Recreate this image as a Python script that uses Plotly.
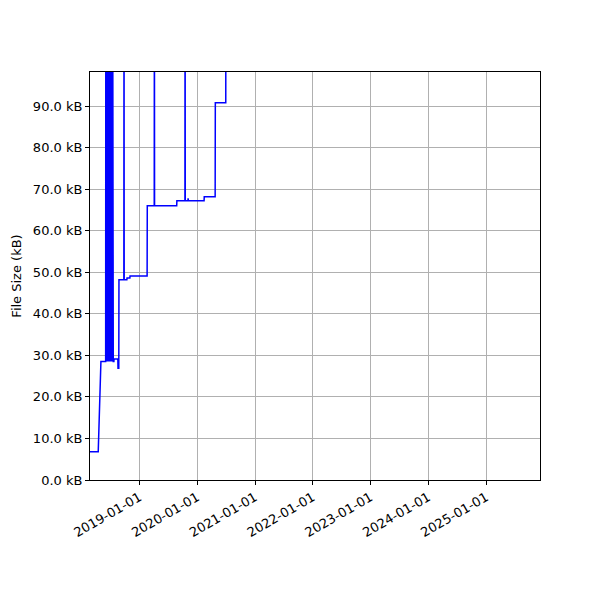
import plotly.graph_objects as go

dates = [
    "2018-02-23", "2018-04-16", "2018-05-03", "2018-06-02",
    "2018-06-03", "2018-06-06", "2018-06-07", "2018-06-11", "2018-06-12",
    "2018-06-16", "2018-06-17", "2018-06-21", "2018-06-22", "2018-06-27",
    "2018-06-28", "2018-07-03", "2018-07-04", "2018-07-09", "2018-07-10",
    "2018-07-15", "2018-07-16", "2018-07-20",
    "2018-07-24", "2018-07-25", "2018-08-15", "2018-08-18", "2018-08-19",
    "2018-08-24", "2018-08-25",
    "2018-09-25", "2018-09-26", "2018-09-27", "2018-10-14", "2018-10-15",
    "2018-11-02", "2018-11-03",
    "2019-02-19", "2019-02-20", "2019-04-05", "2019-04-06", "2019-04-07",
    "2019-08-25", "2019-08-26", "2019-10-16", "2019-10-17", "2019-10-18",
    "2019-11-04", "2019-11-05", "2019-11-07", "2020-02-14", "2020-02-15",
    "2020-04-24", "2020-04-25", "2020-06-30", "2020-07-01",
]
sizes_kb = [
    6.8, 6.8, 28.5, 28.5,
    130.0, 28.5, 130.0, 28.5, 130.0,
    28.5, 130.0, 28.5, 130.0, 28.5,
    130.0, 28.5, 130.0, 28.5, 130.0,
    28.5, 130.0, 28.5,
    28.5, 29.1, 29.1, 29.1, 26.9,
    26.9, 48.2,
    48.2, 130.0, 48.2, 48.2, 48.6,
    48.6, 49.1,
    49.1, 66.0, 66.0, 130.0, 66.0,
    66.0, 67.2, 67.2, 130.0, 67.2,
    67.2, 67.8, 67.2, 67.2, 68.2,
    68.2, 90.8, 90.8, 130.0,
]

y_ticks = [0, 10, 20, 30, 40, 50, 60, 70, 80, 90]
y_tick_text = [f"{v:.1f} kB" for v in y_ticks]
x_ticks = ["2019-01-01", "2020-01-01", "2021-01-01", "2022-01-01",
           "2023-01-01", "2024-01-01", "2025-01-01"]

fig = go.Figure()
fig.add_trace(go.Scatter(x=dates, y=sizes_kb, mode="lines",
                         line=dict(color="blue", width=1.5), showlegend=False))

axis_common = dict(showline=True, linecolor="black", linewidth=1, mirror=True,
                   ticks="outside", ticklen=4, tickcolor="black",
                   showgrid=True, gridcolor="#b0b0b0", gridwidth=1,
                   zeroline=False, tickfont=dict(size=13, color="black"),
                   automargin=False)

# page body has a default 8px margin; compensate so the plot area sits at 90..540 x 72..480
fig.update_layout(
    width=600, height=600, autosize=False,
    margin=dict(l=82, r=68, t=64, b=128),
    plot_bgcolor="white", paper_bgcolor="white",
    font=dict(family="DejaVu Sans", size=13, color="black"),
    xaxis=dict(range=["2018-02-23", "2025-12-07"], tickvals=x_ticks, ticktext=x_ticks,
               tickangle=-30, **axis_common),
    yaxis=dict(range=[0, 98.2], tickvals=y_ticks, ticktext=y_tick_text,
               title=dict(text="File Size (kB)", font=dict(size=13), standoff=8),
               **axis_common),
)

fig.write_html("out.html")
